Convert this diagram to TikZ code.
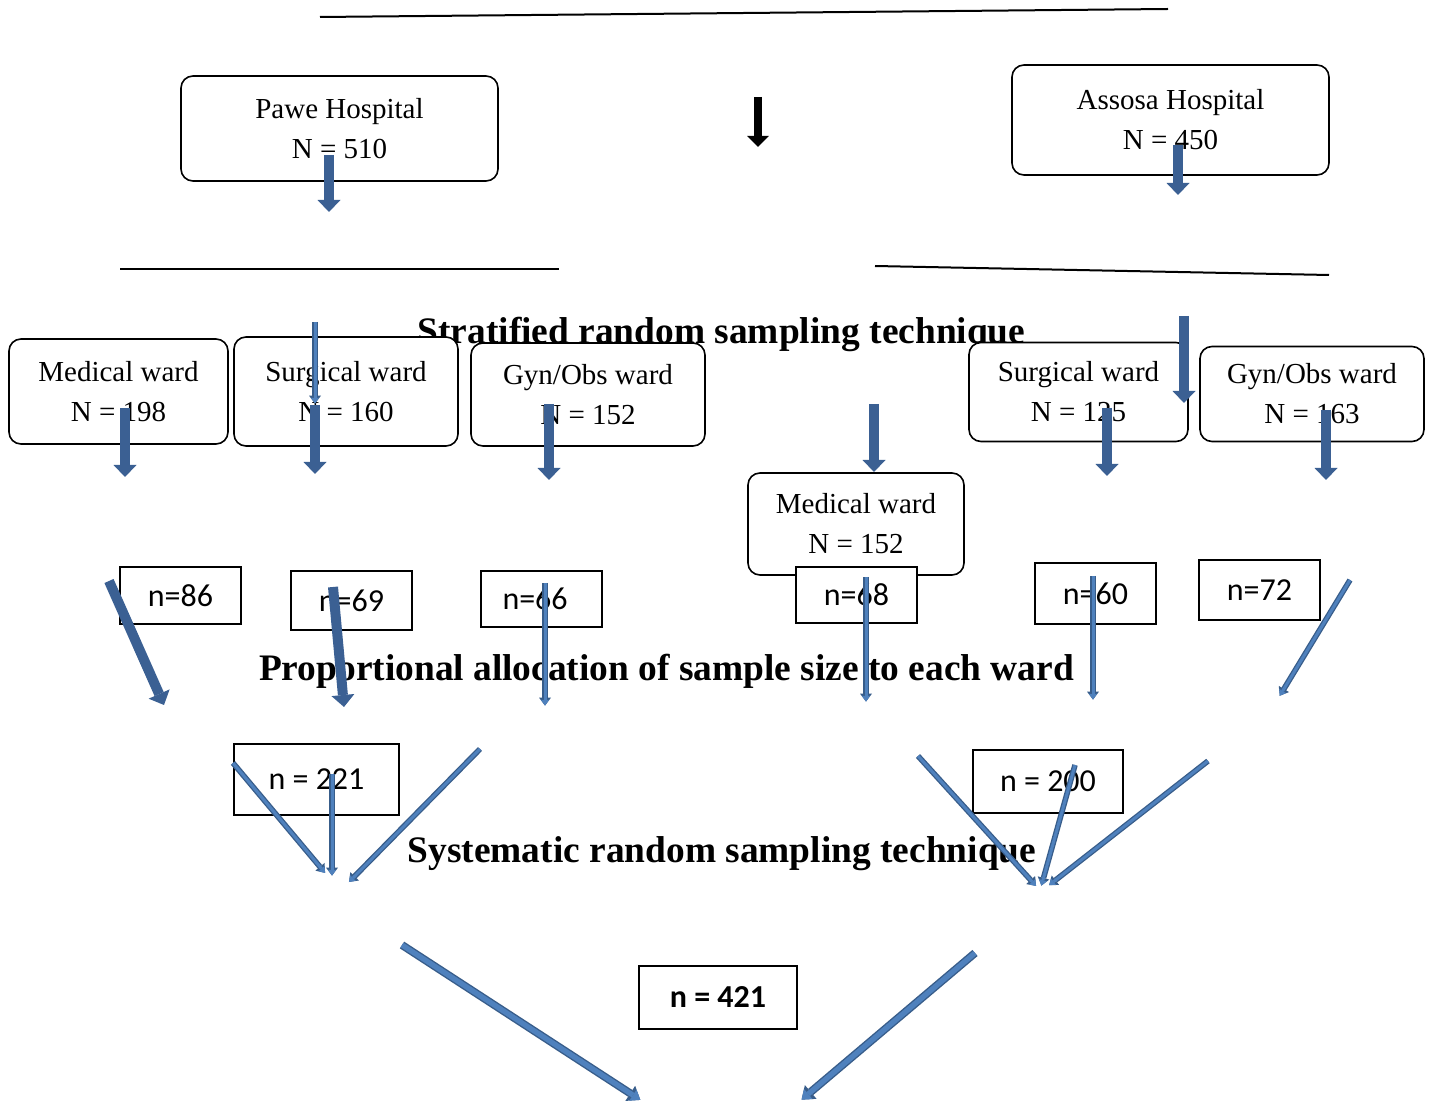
\documentclass[tikz,border=0pt]{standalone}
\usepackage{fontspec}
\setmainfont{Liberation Serif}
\newfontfamily\calibri{Carlito}
\usetikzlibrary{arrows.meta,positioning}
\definecolor{arrowdark}{HTML}{385D8A}
\definecolor{arrowfill}{HTML}{4F81BD}
\definecolor{arrowbig}{HTML}{3B6093}

\begin{document}
\begin{tikzpicture}[
    x=0.5pt, y=-0.5pt,
    hosp/.style={rectangle, rounded corners=6pt, draw=black, fill=white, line width=0.8pt, align=center, inner sep=0pt, font=\fontsize{14.5}{20}\selectfont},
    ward/.style={hosp},
    sample/.style={rectangle, draw=black, fill=white, line width=0.8pt, align=center, inner sep=0pt, font=\calibri\fontsize{16}{19}\selectfont},
    heading/.style={font=\bfseries\fontsize{18.7}{22}\selectfont, inner sep=0pt, anchor=base},
    sepline/.style={draw=black, line width=1pt},
    bigarrow/.style={draw=arrowbig, line width=5pt, -{Triangle[width=11.5pt, length=6pt, line width=0pt]}},
    midarrow/.style={preaction={draw=arrowdark, line width=4pt, -{Triangle[width=9pt, length=6pt, line width=0pt]}},
        draw=arrowfill, line width=2.6pt, shorten >=1pt, -{Triangle[width=6.6pt, length=4.4pt, line width=0pt]}},
    thinarrow/.style={preaction={draw=arrowdark, line width=2.8pt, -{Triangle[width=6pt, length=4pt, line width=0pt]}},
        draw=arrowfill, line width=1.5pt, shorten >=0.7pt, -{Triangle[width=4pt, length=2.8pt, line width=0pt]}},
    blackarrow/.style={draw=black, line width=4pt, -{Triangle[width=11pt, length=5.5pt, line width=0pt]}}
]
\useasboundingbox (0,0) rectangle (1432,1101);
\clip (0,0) rectangle (1432,1101);
% Separator lines
\draw[sepline] (320,17) -- (1168,9);
\draw[sepline] (120,269) -- (559,269);
\draw[sepline] (875,266) -- (1329,275);
% First heading, partly hidden by the ward boxes
\node[heading] (strat_title) at (721.5,344) {Stratified random sampling technique};
% Hospitals
\node[hosp, minimum width=158.5pt, minimum height=52.5pt] (pawe) at (339.5,128.5) {Pawe Hospital\\N = 510};
\node[hosp, minimum width=158.5pt, minimum height=55pt] (assosa) at (1170.5,120) {Assosa Hospital\\N = 450};
% Wards of Pawe
\node[ward, minimum width=109.5pt, minimum height=52.5pt] (pawe_med) at (118.5,391.5) {Medical ward\\N = 198};
\node[ward, minimum width=112pt, minimum height=54.5pt] (pawe_surg) at (346,391.5) {Surgical ward\\N = 160};
\node[ward, minimum width=117pt, minimum height=51.5pt] (pawe_gyn) at (588,394.5) {Gyn/Obs ward\\N = 152};
% Wards of Assosa
\node[ward, minimum width=109.5pt, minimum height=49.5pt] (assosa_surg) at (1078.5,392) {Surgical ward\\N = 125};
\node[ward, minimum width=112pt, minimum height=47.5pt] (assosa_gyn) at (1312,394) {Gyn/Obs ward\\N = 163};
\node[ward, minimum width=108pt, minimum height=51pt] (assosa_med) at (856,524) {Medical ward\\N = 152};
% Sample size of each ward
\node[sample, minimum width=60.5pt, minimum height=28.5pt] (n86) at (180.5,595.5) {n=86};
\node[sample, minimum width=60.5pt, minimum height=29.5pt] (n69) at (351.5,600.5) {n=69};
\node[sample, minimum width=60.5pt, minimum height=28pt, text width=39pt, align=left] (n66) at (541.5,599) {n=66};
\node[sample, minimum width=60.5pt, minimum height=28pt] (n68) at (856.5,595) {n=68};
\node[sample, minimum width=60.5pt, minimum height=30.5pt] (n60) at (1095.5,593.5) {n=60};
\node[sample, minimum width=60.5pt, minimum height=30pt] (n72) at (1259.5,590) {n=72};
% Other headings
\node[heading] (prop_title) at (666.5,681) {Proportional allocation of sample size to each ward};
\node[heading] (syst_title) at (722,863) {Systematic random sampling technique};
% Hospital totals
\node[sample, minimum width=82.5pt, minimum height=35.5pt] (n221) at (316.5,779.5) {n = 221};
\node[sample, minimum width=75pt, minimum height=31.5pt] (n200) at (1048,781.5) {n = 200};
% Total
\node[sample, minimum width=79pt, minimum height=31.5pt, font=\calibri\bfseries\fontsize{16}{19}\selectfont] (n421) at (718,997.5) {n = 421};
% Arrow ends
\coordinate (pawe_s) at (329,155);   \coordinate (pawe_e) at (329,212);
\coordinate (assosa_s) at (1178,145); \coordinate (assosa_e) at (1178,195);
\coordinate (mid_s) at (758,97);     \coordinate (mid_e) at (758,147);
\coordinate (surg_in_s) at (315,322); \coordinate (surg_in_e) at (315,405);
\coordinate (w198_s) at (125,408);   \coordinate (w198_e) at (125,477);
\coordinate (w160_s) at (315,405);   \coordinate (w160_e) at (315,474);
\coordinate (w152_s) at (549,404);   \coordinate (w152_e) at (549,480);
\coordinate (med_in_s) at (874,404); \coordinate (med_in_e) at (874,472);
\coordinate (w125_s) at (1107,408);  \coordinate (w125_e) at (1107,476);
\coordinate (surg2_in_s) at (1184,316); \coordinate (surg2_in_e) at (1184,403);
\coordinate (w163_s) at (1326,410);  \coordinate (w163_e) at (1326,480);
\coordinate (n86_s) at (109,581);    \coordinate (n86_e) at (164,705);
\coordinate (n69_s) at (333,587);    \coordinate (n69_e) at (344,707);
\coordinate (n66_s) at (545,583);    \coordinate (n66_e) at (545,707);
\coordinate (n68_s) at (866,577);    \coordinate (n68_e) at (866,703);
\coordinate (n60_s) at (1093,576);   \coordinate (n60_e) at (1093,701);
\coordinate (n72_s) at (1350,580);   \coordinate (n72_e) at (1279,697);
\coordinate (p1_s) at (233,763);     \coordinate (p1_e) at (326,874);
\coordinate (p2_s) at (332,774);     \coordinate (p2_e) at (332,877);
\coordinate (p3_s) at (480,749);     \coordinate (p3_e) at (348,883);
\coordinate (a1_s) at (918,756);     \coordinate (a1_e) at (1037,887);
\coordinate (a2_s) at (1075,765);    \coordinate (a2_e) at (1041,887);
\coordinate (a3_s) at (1208,761);    \coordinate (a3_e) at (1048,886);
\coordinate (tot1_s) at (402,945);   \coordinate (tot1_e) at (642,1101);
\coordinate (tot2_s) at (975,953);   \coordinate (tot2_e) at (800,1101);
% Arrows
\draw[bigarrow] (pawe_s) -- (pawe_e);
\draw[bigarrow] (assosa_s) -- (assosa_e);
\draw[blackarrow] (mid_s) -- (mid_e);
\draw[thinarrow] (surg_in_s) -- (surg_in_e);
\draw[bigarrow] (w198_s) -- (w198_e);
\draw[bigarrow] (w160_s) -- (w160_e);
\draw[bigarrow] (w152_s) -- (w152_e);
\draw[bigarrow] (med_in_s) -- (med_in_e);
\draw[bigarrow] (w125_s) -- (w125_e);
\draw[bigarrow] (surg2_in_s) -- (surg2_in_e);
\draw[bigarrow] (w163_s) -- (w163_e);
\draw[bigarrow] (n86_s) -- (n86_e);
\draw[bigarrow] (n69_s) -- (n69_e);
\draw[thinarrow] (n66_s) -- (n66_e);
\draw[thinarrow] (n68_s) -- (n68_e);
\draw[thinarrow] (n60_s) -- (n60_e);
\draw[thinarrow] (n72_s) -- (n72_e);
\draw[thinarrow] (p1_s) -- (p1_e);
\draw[thinarrow] (p2_s) -- (p2_e);
\draw[thinarrow] (p3_s) -- (p3_e);
\draw[thinarrow] (a1_s) -- (a1_e);
\draw[thinarrow] (a2_s) -- (a2_e);
\draw[thinarrow] (a3_s) -- (a3_e);
\draw[midarrow] (tot1_s) -- (tot1_e);
\draw[midarrow] (tot2_s) -- (tot2_e);
\end{tikzpicture}
\end{document}
